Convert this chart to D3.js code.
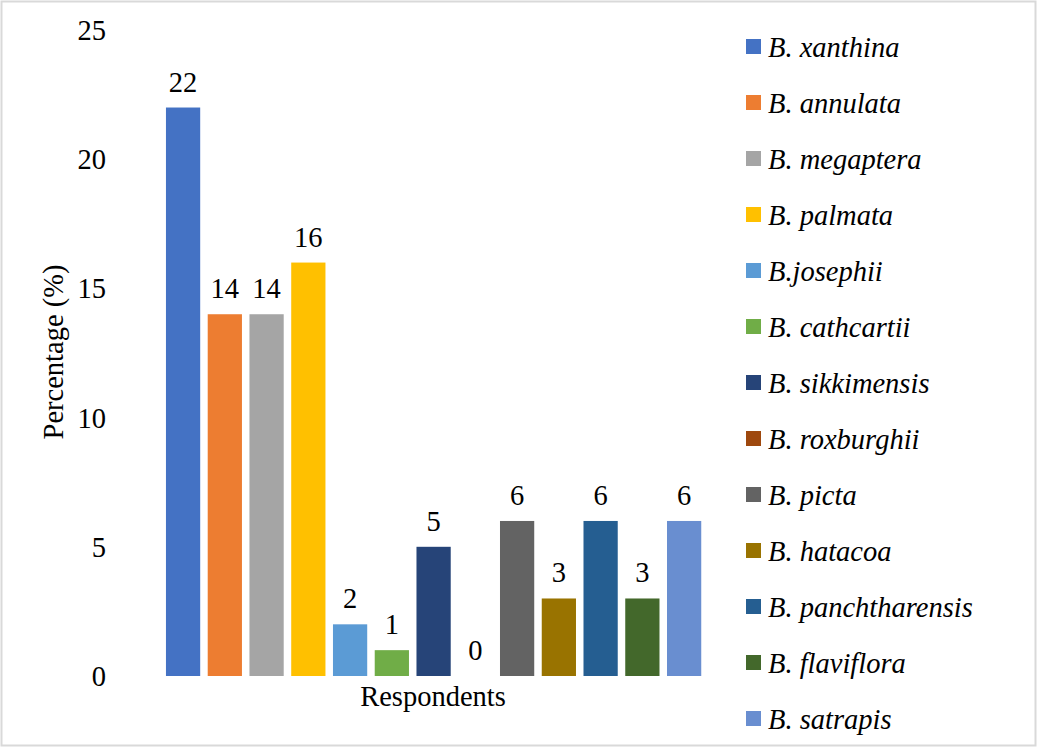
<!DOCTYPE html>
<html>
<head>
<meta charset="utf-8">
<script src="https://cdn.jsdelivr.net/npm/d3@7"></script>
<style>
  body { margin: 0; background: #fff; }
  svg { font-family: "Liberation Serif", "Times New Roman", serif; }
</style>
</head>
<body>
<div id="chart"></div>
<script>
// species shown as bars (one series per species)
var species = ["B. xanthina", "B. annulata", "B. megaptera", "B. palmata", "B.josephii",
  "B. cathcartii", "B. sikkimensis", "B. roxburghii", "B. picta", "B. hatacoa",
  "B. panchtharensis", "B. flaviflora", "B. satrapis"];
var percentages = [22, 14, 14, 16, 2, 1, 5, 0, 6, 3, 6, 3, 6];
var colors = ["#4472C4", "#ED7D31", "#A5A5A5", "#FFC000", "#5B9BD5", "#70AD47", "#264478",
  "#9E480E", "#636363", "#997300", "#255E91", "#43682B", "#698ED0"];
var yTicks = [0, 5, 10, 15, 20, 25];

var width = 1037, height = 747, fs = 28.5;

var svg = d3.select("#chart").append("svg")
    .attr("width", width)
    .attr("height", height);

// chart border
svg.append("rect")
    .attr("x", 1.5).attr("y", 1.5)
    .attr("width", width - 3).attr("height", height - 3)
    .attr("fill", "#fff")
    .attr("stroke", "#d9d9d9")
    .attr("stroke-width", 2);

var x = d3.scaleBand()
    .domain(species)
    .range([162.2, 705])
    .paddingInner(0.18)
    .paddingOuter(0.09);

var y = d3.scaleLinear()
    .domain([0, 25])
    .range([676, 30]);

var z = d3.scaleOrdinal().domain(species).range(colors);

// y tick labels, no axis line
svg.append("g")
  .selectAll("text")
  .data(yTicks)
  .enter().append("text")
    .attr("x", 106)
    .attr("y", function(d) { return y(d); })
    .attr("dy", "0.35em")
    .attr("text-anchor", "end")
    .attr("font-size", fs)
    .attr("fill", "#000")
    .text(function(d) { return d; });

var data = species.map(function(s, i) { return {name: s, value: percentages[i]}; });

svg.append("g")
  .selectAll("rect")
  .data(data)
  .enter().append("rect")
    .attr("x", function(d) { return x(d.name); })
    .attr("y", function(d) { return y(d.value); })
    .attr("width", x.bandwidth())
    .attr("height", function(d) { return y(0) - y(d.value); })
    .attr("fill", function(d) { return z(d.name); });

svg.append("g")
  .selectAll("text")
  .data(data)
  .enter().append("text")
    .attr("x", function(d) { return x(d.name) + x.bandwidth() / 2; })
    .attr("y", function(d) { return y(d.value) - 16; })
    .attr("text-anchor", "middle")
    .attr("font-size", fs)
    .attr("fill", "#000")
    .text(function(d) { return d.value; });

// axis titles
svg.append("text")
    .attr("x", 433)
    .attr("y", 706)
    .attr("text-anchor", "middle")
    .attr("font-size", fs)
    .text("Respondents");

svg.append("text")
    .attr("transform", "translate(63,352) rotate(-90)")
    .attr("text-anchor", "middle")
    .attr("font-size", fs)
    .text("Percentage (%)");

// legend
var legend = svg.append("g")
  .selectAll("g")
  .data(species)
  .enter().append("g")
    .attr("transform", function(d, i) { return "translate(746," + (47 + i * 56) + ")"; });

legend.append("rect")
    .attr("x", 0)
    .attr("y", -8)
    .attr("width", 15)
    .attr("height", 15)
    .attr("fill", z);

legend.append("text")
    .attr("x", 22)
    .attr("y", 0)
    .attr("dy", "0.35em")
    .attr("font-size", fs)
    .attr("font-style", "italic")
    .text(function(d) { return d; });
</script>
</body>
</html>
